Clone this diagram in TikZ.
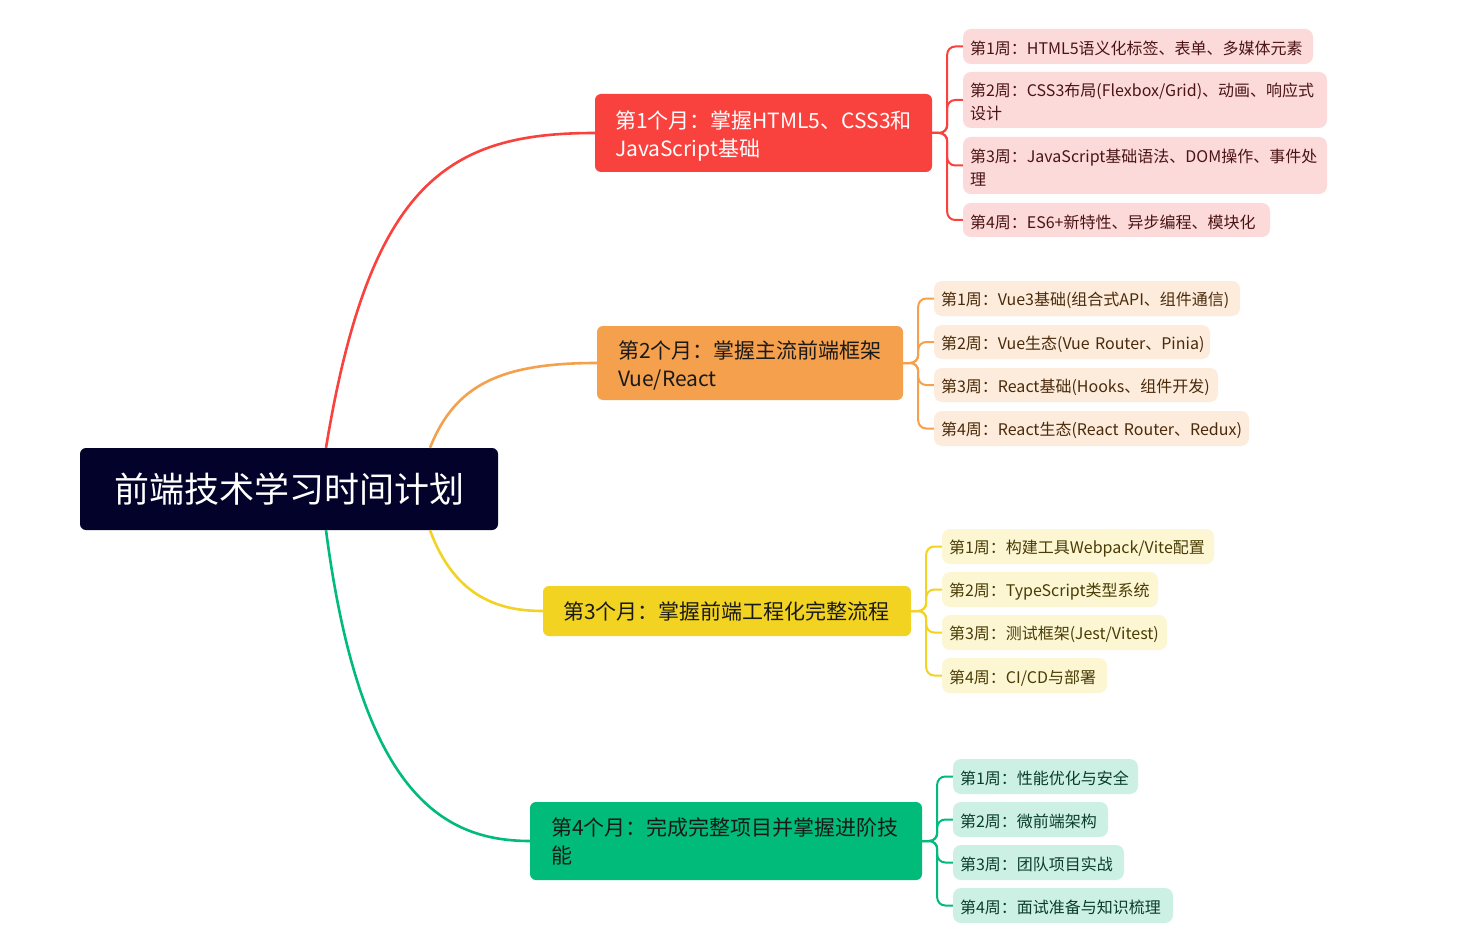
\documentclass[tikz,border=0pt]{standalone}
\usepackage{fontspec}
\setmainfont{Noto Sans CJK SC}
\usetikzlibrary{calc}
\definecolor{rootc}{HTML}{02022B}
\definecolor{redc}{HTML}{F9423D}
\definecolor{orac}{HTML}{F5A04C}
\definecolor{yelc}{HTML}{F2D321}
\definecolor{grec}{HTML}{00BB79}
\definecolor{redl}{HTML}{FDDADA}
\definecolor{oral}{HTML}{FDECDB}
\definecolor{yell}{HTML}{FCF6D3}
\definecolor{grel}{HTML}{CCF1E4}
\definecolor{redt}{HTML}{4A1414}
\definecolor{orat}{HTML}{4A2A0C}
\definecolor{yelt}{HTML}{4A3C06}
\definecolor{gret}{HTML}{0A3D2C}
\definecolor{darkt}{HTML}{1A1A1A}
\tikzset{
  rootbox/.style={rectangle, rounded corners=6pt, fill=rootc, text=white, align=center,
    inner sep=0pt, font=\fontsize{35}{40}\selectfont},
  branchbox/.style={rectangle, rounded corners=6pt, inner ysep=0pt, align=left,
    font=\fontsize{21}{28}\selectfont},
  lowered/.style={execute at begin node={\rule{0pt}{1.13em}}},
  leafbox/.style={rectangle, rounded corners=8pt, inner xsep=7pt, inner ysep=0pt, align=left,
    font=\fontsize{16}{23}\selectfont, execute at begin node={\rule{0pt}{1.12em}}},
  maincurve/.style={line width=2.6pt},
  bracket/.style={line width=2pt, rounded corners=8pt},
}
\begin{document}
\begin{tikzpicture}[x=1pt,y=-1pt]
\useasboundingbox (0,0) rectangle (1462,944);
\fill[white] (0,0) rectangle (1462,944);

% root
\node[rootbox, minimum width=418pt, minimum height=82pt] (root) at (289,489) {前端技术学习时间计划};

% branches
\node[branchbox, lowered, fill=redc, text=white, inner xsep=20pt, text width=297pt, minimum height=78pt] (b1) at (763.5,133)
  {第1个月：掌握HTML5、CSS3和\\JavaScript基础};
\node[branchbox, lowered, fill=orac, text=darkt, inner xsep=21pt, text width=264pt, minimum height=74pt] (b2) at (750,363)
  {第2个月：掌握主流前端框架\\Vue/React};
\node[branchbox, fill=yelc, text=darkt, inner xsep=20pt, text width=328pt, minimum height=50pt] (b3) at (727,611)
  {第3个月：掌握前端工程化完整流程};
\node[branchbox, fill=grec, text=darkt, inner xsep=21pt, text width=350pt, minimum height=78pt] (b4) at (726,841)
  {第4个月：完成完整项目并掌握进阶技\\能};

% leaves of month 1
\node[leafbox, fill=redl, text=redt, text width=336pt, minimum height=35pt] (l11) at (1138,46.5)
  {第1周：HTML5语义化标签、表单、多媒体元素};
\node[leafbox, fill=redl, text=redt, text width=350pt, minimum height=56pt] (l12) at (1145,100)
  {第2周：CSS3布局(Flexbox/Grid)、动画、响应式\\设计};
\node[leafbox, fill=redl, text=redt, text width=350pt, minimum height=57pt] (l13) at (1145,165.5)
  {第3周：JavaScript基础语法、DOM操作、事件处\\理};
\node[leafbox, fill=redl, text=redt, text width=293pt, minimum height=34pt] (l14) at (1116.5,220)
  {第4周：ES6+新特性、异步编程、模块化};

% leaves of month 2
\node[leafbox, fill=oral, text=orat, text width=292pt, minimum height=35pt] (l21) at (1087,298.5)
  {第1周：Vue3基础(组合式API、组件通信)};
\node[leafbox, fill=oral, text=orat, text width=262pt, minimum height=34pt] (l22) at (1072,342)
  {第2周：Vue生态(Vue~Router、Pinia)};
\node[leafbox, fill=oral, text=orat, text width=270pt, minimum height=34pt] (l23) at (1076,385)
  {第3周：React基础(Hooks、组件开发)};
\node[leafbox, fill=oral, text=orat, text width=301pt, minimum height=35pt] (l24) at (1091.5,428.5)
  {第4周：React生态(React~Router、Redux)};

% leaves of month 3
\node[leafbox, fill=yell, text=yelt, text width=258pt, minimum height=35pt] (l31) at (1078,546.5)
  {第1周：构建工具Webpack/Vite配置};
\node[leafbox, fill=yell, text=yelt, text width=202pt, minimum height=35pt] (l32) at (1050,589.5)
  {第2周：TypeScript类型系统};
\node[leafbox, fill=yell, text=yelt, text width=211pt, minimum height=35pt] (l33) at (1054.5,632.5)
  {第3周：测试框架(Jest/Vitest)};
\node[leafbox, fill=yell, text=yelt, text width=151pt, minimum height=35pt] (l34) at (1024.5,675.5)
  {第4周：CI/CD与部署};

% leaves of month 4
\node[leafbox, fill=grel, text=gret, text width=171pt, minimum height=35pt] (l41) at (1045.5,776.5)
  {第1周：性能优化与安全};
\node[leafbox, fill=grel, text=gret, text width=141pt, minimum height=35pt] (l42) at (1030.5,819.5)
  {第2周：微前端架构};
\node[leafbox, fill=grel, text=gret, text width=157pt, minimum height=35pt] (l43) at (1038.5,862.5)
  {第3周：团队项目实战};
\node[leafbox, fill=grel, text=gret, text width=206pt, minimum height=35pt] (l44) at (1063,905.5)
  {第4周：面试准备与知识梳理};

% main curves
\draw[maincurve, redc] ($(root.north)+(37,0)$) .. controls (370,180) and (450,133) .. (b1.west);
\draw[maincurve, orac] ($(root.north)+(141,0)$) .. controls (455,385) and (500,363) .. (b2.west);
\draw[maincurve, yelc] ($(root.south)+(141,0)$) .. controls (455,598) and (500,611) .. (b3.west);
\draw[maincurve, grec] ($(root.south)+(37,0)$) .. controls (360,790) and (440,841) .. (b4.west);

% brackets
\foreach \l in {l11,l12,l13,l14} \draw[bracket, redc] (b1.east) -- ++(15,0) |- (\l.west);
\foreach \l in {l21,l22,l23,l24} \draw[bracket, orac] (b2.east) -- ++(15,0) |- (\l.west);
\foreach \l in {l31,l32,l33,l34} \draw[bracket, yelc] (b3.east) -- ++(15,0) |- (\l.west);
\foreach \l in {l41,l42,l43,l44} \draw[bracket, grec] (b4.east) -- ++(15,0) |- (\l.west);
\end{tikzpicture}
\end{document}
